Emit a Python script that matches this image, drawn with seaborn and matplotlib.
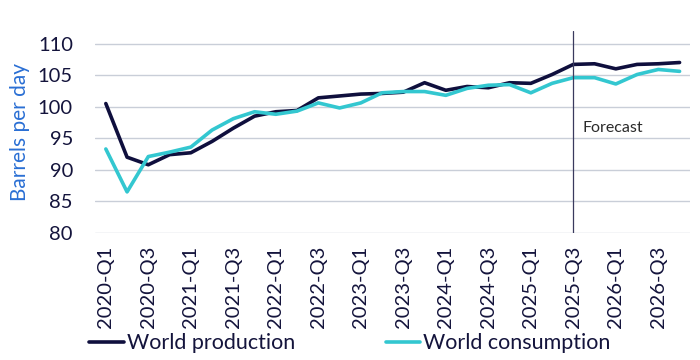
import numpy as np
import pandas as pd
import seaborn as sns
from matplotlib import pyplot as plt

# quarterly data, 2020-Q1 .. 2026-Q4
quarters = [f"{y}-Q{q}" for y in range(2020, 2027) for q in range(1, 5)]

production = [100.5, 92.0, 90.8, 92.4, 92.7, 94.5, 96.6, 98.5,
              99.2, 99.4, 101.4, 101.7, 102.0, 102.1, 102.3, 103.8,
              102.6, 103.2, 103.0, 103.8, 103.7, 105.1, 106.7, 106.8,
              106.0, 106.7, 106.8, 107.0]
consumption = [93.3, 86.5, 92.1, 92.8, 93.6, 96.3, 98.1, 99.2,
               98.8, 99.3, 100.6, 99.8, 100.6, 102.2, 102.4, 102.4,
               101.8, 102.9, 103.4, 103.5, 102.2, 103.7, 104.6, 104.6,
               103.6, 105.1, 105.9, 105.6]

series_names = ["World production", "World consumption"]
palette = {"World production": "#0f0f3d", "World consumption": "#33c7d0"}
forecast_start = "2025-Q3"

df = pd.DataFrame({
    "quarter": quarters * 2,
    "idx": list(range(len(quarters))) * 2,
    "value": production + consumption,
    "series": [series_names[0]] * len(quarters) + [series_names[1]] * len(quarters),
})

sns.set_style("white")
plt.rcParams['font.family'] = ['Lato', 'DejaVu Sans']
text_col = "#14143c"

fig = plt.figure(figsize=(7, 3.6), dpi=100)
ax = fig.add_axes([0.136, 0.353, 0.85, 0.561])

sns.lineplot(data=df, x="idx", y="value", hue="series", palette=palette,
             linewidth=2.6, ax=ax, legend=False)

ax.set_xlim(-0.5, len(quarters) - 0.5)
ax.set_ylim(80, 112)
ax.set_yticks(np.arange(80, 111, 5))
ax.grid(axis="y", color="#c9ced8", linewidth=1)
ax.set_axisbelow(True)
for s in ax.spines.values():
    s.set_visible(False)

tick_pos = list(range(0, len(quarters), 2))
ax.set_xticks(tick_pos)
ax.set_xticklabels([quarters[i] for i in tick_pos], rotation=90)
ax.tick_params(axis="x", labelsize=14.5, colors=text_col, length=0, pad=9)
ax.tick_params(axis="y", labelsize=14.5, colors=text_col, length=0, pad=16)

ax.set_xlabel("")
ax.set_ylabel("Barrels per day", color="#2a6fd4", fontsize=15, labelpad=6)

fx = quarters.index(forecast_start)
ax.axvline(fx, color="#3a3a5e", linewidth=0.9)
ax.text(fx + 0.45, 96.6, "Forecast", fontsize=11.5, color="#2a2a2a", va="center")

handles = [plt.Line2D([], [], color=palette[n], linewidth=2.6) for n in series_names]
leg = fig.legend(handles, series_names, loc="center", bbox_to_anchor=(0.5, 0.047),
                 ncol=2, frameon=False, fontsize=15.5, handlelength=1.6,
                 handletextpad=0.15, columnspacing=4.2)
for t in leg.get_texts():
    t.set_color(text_col)

fig.savefig("out.png", dpi=100)
